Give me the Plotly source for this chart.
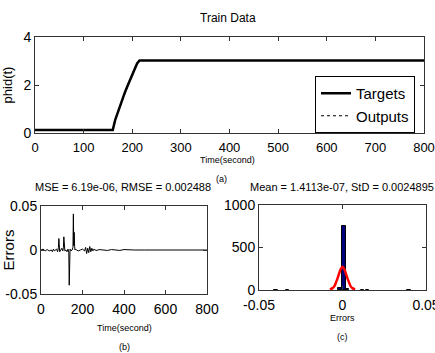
import plotly.graph_objects as go

# ---------------- data ----------------
# (a) Train data: targets and outputs
t_train = [0, 160, 165, 170, 175, 180, 185, 190, 195, 200, 205, 210, 215, 800]
targets = [0.13, 0.13, 0.55, 0.85, 1.15, 1.45, 1.7, 1.95, 2.2, 2.45, 2.7, 2.9, 3.02, 3.02]
outputs = [0.13, 0.13, 0.56, 0.84, 1.16, 1.44, 1.71, 1.94, 2.21, 2.44, 2.71, 2.89, 3.02, 3.02]

# (b) Errors over time
t_err = [0, 10, 20, 30, 40, 50, 55, 60, 65, 70, 75, 80, 84, 86, 88, 90, 95, 100, 105, 108,
         110, 112, 115, 120, 125, 130, 134, 136, 138, 140, 145, 150, 154, 156, 158, 160,
         162, 164, 166, 170, 180, 190, 200, 210, 215, 220, 225, 230, 235, 240, 245, 250,
         255, 260, 270, 280, 300, 320, 340, 360, 380, 400, 420, 440, 450, 500, 600, 700, 800]
err = [0.0, 0.001, -0.001, 0.0005, -0.001, 0.0, -0.002, 0.001, -0.001, 0.0, 0.001, -0.002,
       0.003, 0.013, 0.002, -0.002, 0.0, 0.002, -0.001, 0.003, 0.015, 0.002, -0.001, 0.0,
       -0.002, 0.001, -0.003, -0.040, -0.005, 0.001, -0.001, 0.0, 0.003, 0.041, 0.005, 0.02,
       0.004, 0.0, 0.001, 0.0, -0.001, 0.0, 0.001, -0.001, 0.003, -0.004, 0.002, -0.003, 0.004,
       -0.002, 0.002, -0.001, 0.001, 0.0, -0.0005, 0.0005, 0.0, -0.0005, 0.0005, 0.0, -0.0005,
       0.0005, 0.0, -0.0003, 0.0, 0.0, 0.0, 0.0, 0.0]

# (c) Error histogram and fitted normal curve
hist_x = [-0.04, -0.033, -0.0015, 0.0007, 0.0029, 0.012, 0.015, 0.04]
hist_count = [4, 4, 20, 750, 12, 4, 4, 4]
fit_x = [-0.0075, -0.006, -0.005, -0.0035, -0.0025, -0.0012, 0.0, 0.0012, 0.0025, 0.0035, 0.005, 0.006, 0.0075]
fit_y = [5, 22, 40, 110, 165, 240, 274, 240, 165, 110, 40, 22, 5]

# ---------------- figure ----------------
W, H = 435, 353
FONT = "Liberation Sans, Arial, sans-serif"

def px_x(a, b):
    return [a / W, b / W]

def px_y(top, bottom):
    return [1 - bottom / H, 1 - top / H]

fig = go.Figure()

fig.add_trace(go.Scatter(x=t_train, y=targets, mode="lines", name="Targets",
                         line=dict(color="black", width=2.5), xaxis="x", yaxis="y"))
fig.add_trace(go.Scatter(x=t_train, y=outputs, mode="lines", name="Outputs",
                         line=dict(color="black", width=1.2, dash="dot"), xaxis="x", yaxis="y"))

fig.add_trace(go.Scatter(x=t_err, y=err, mode="lines", showlegend=False,
                         line=dict(color="black", width=1), xaxis="x2", yaxis="y2"))

fig.add_trace(go.Bar(x=hist_x, y=hist_count, width=0.0022, showlegend=False,
                     marker=dict(color="#00007f", line=dict(color="black", width=1)),
                     xaxis="x3", yaxis="y3"))
fig.add_trace(go.Scatter(x=fit_x, y=fit_y, mode="lines", showlegend=False,
                         line=dict(color="red", width=2.5, shape="spline"), xaxis="x3", yaxis="y3"))

axis_common = dict(showline=True, linecolor="#333333", linewidth=1, mirror="allticks",
                   ticks="inside", ticklen=4, tickcolor="#333333", showgrid=False,
                   zeroline=False, automargin=False, ticklabeloverflow="allow")

def tf(size):
    return dict(family=FONT, size=size, color="black")

fig.update_layout(
    width=W, height=H, margin=dict(l=0, r=0, t=0, b=0, pad=0, autoexpand=False),
    paper_bgcolor="white", plot_bgcolor="white",
    font=dict(family=FONT, color="black"),
    xaxis=dict(domain=px_x(35, 424), range=[0, 800], tickvals=[0, 100, 200, 300, 400, 500, 600, 700, 800],
               anchor="y", ticklabelstandoff=2, tickfont=tf(13), **axis_common),
    yaxis=dict(domain=px_y(37, 133), range=[0, 4], tickvals=[0, 2, 4], anchor="x", tickfont=tf(14),
               title=dict(text="phid(t)", font=dict(family=FONT, size=13), standoff=8), **axis_common),
    xaxis2=dict(domain=px_x(41, 207), range=[0, 800], tickvals=[0, 200, 400, 600, 800],
                anchor="y2", ticklabelstandoff=2, tickfont=tf(14), **axis_common),
    yaxis2=dict(domain=px_y(206, 294), range=[-0.05, 0.05], tickvals=[-0.05, 0, 0.05],
                ticktext=["-0.05", "0", "0.05"], anchor="x2", tickfont=tf(14),
                title=dict(text="Errors", font=dict(family=FONT, size=15), standoff=2), **axis_common),
    xaxis3=dict(domain=px_x(259, 426), range=[-0.05, 0.05], tickvals=[-0.05, 0, 0.05],
                ticktext=["-0.05", "0", "0.05"], anchor="y3", ticklabelstandoff=2, tickfont=tf(14),
                **axis_common),
    yaxis3=dict(domain=px_y(205, 290), range=[0, 1000], tickvals=[0, 500, 1000], anchor="x3",
                tickfont=tf(14), **axis_common),
    bargap=0,
    legend=dict(x=415 / W, xanchor="right", y=1 - 133 / H, yanchor="bottom",
                bgcolor="white", bordercolor="black", borderwidth=1,
                font=dict(family=FONT, size=15, color="black"), tracegroupgap=0),
    showlegend=True,
)

def note(text, x, y, size):
    fig.add_annotation(text=text, x=x / W, y=1 - y / H, xref="paper", yref="paper",
                       showarrow=False, font=dict(family=FONT, size=size, color="black"),
                       xanchor="center", yanchor="middle")

note("Train Data", 228, 18, 12)
note("Time(second)", 227, 160, 9)
note("(a)", 221, 179, 9)
note("MSE = 6.19e-06, RMSE = 0.002488", 123, 187, 11)
note("Time(second)", 124, 328, 9)
note("(b)", 124, 347, 9)
note("Mean = 1.4113e-07, StD = 0.0024895", 342, 187, 11)
note("Errors", 342, 318, 9)
note("(c)", 342, 337, 9)

fig.write_html("out.html",
               config={"displayModeBar": False},
               post_script="document.body.style.margin='0';document.body.style.overflow='hidden';")
